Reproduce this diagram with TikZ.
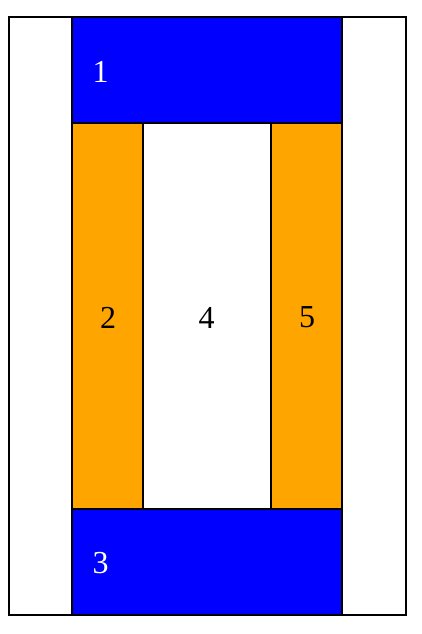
\documentclass[tikz,border=0pt]{standalone}
\usepackage{fontspec}
\setmainfont{Liberation Serif}
\definecolor{bblue}{RGB}{0,0,255}
\definecolor{borange}{RGB}{255,165,0}
\begin{document}
\begin{tikzpicture}[x=0.75pt,y=-0.75pt,
  box/.style={draw=black,line width=1.5pt},
  lbl/.style={font=\fontsize{24pt}{26pt}\selectfont,inner sep=0pt}]
\useasboundingbox (0,0) rectangle (421,634);
\draw[box,fill=white] (8.5,17) rectangle (406,615);
\draw[box,fill=bblue] (72,17) rectangle (342,123);
\draw[box,fill=borange] (72,123) rectangle (143,509);
\draw[box,fill=white] (143,123) rectangle (271,509);
\draw[box,fill=borange] (271,123) rectangle (342,509);
\draw[box,fill=bblue] (72,509) rectangle (342,615);
\node[lbl,text=white] (n1) at (100.5,71.5) {1};
\node[lbl] (n2) at (108,317.5) {2};
\node[lbl] (n4) at (206.5,317.5) {4};
\node[lbl] (n5) at (307,317.5) {5};
\node[lbl,text=white] (n3) at (100.5,563) {3};
\end{tikzpicture}
\end{document}
